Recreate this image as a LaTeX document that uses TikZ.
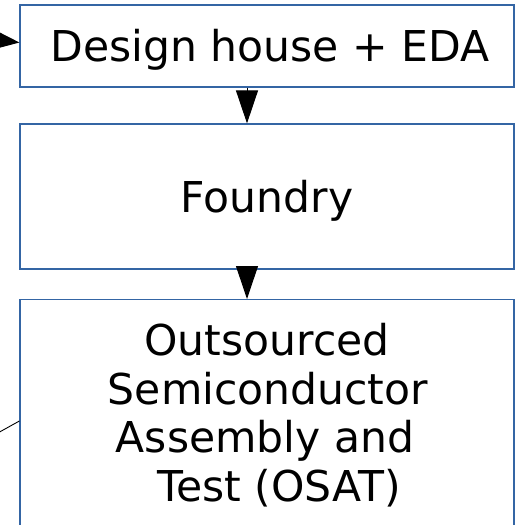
\documentclass[tikz,border=0pt]{standalone}
\usepackage{fontspec}
\setmainfont{DejaVu Sans}
\usetikzlibrary{arrows.meta,calc}
\definecolor{boxblue}{HTML}{3465A4}
\begin{document}
\begin{tikzpicture}[x=1pt,y=-1pt,
  box/.style={draw=boxblue, line width=1.2pt, minimum width=494pt, inner sep=0pt,
    text height=31pt, text depth=0pt, font=\fontsize{42.5}{48.7}\selectfont},
  txt/.style={inner sep=0pt, anchor=base, font=\fontsize{42.5}{48.7}\selectfont},
  arr/.style={draw=black, line width=1pt, -{Triangle[length=33pt,width=22pt]}},
  arrh/.style={draw=black, line width=1pt, -{Triangle[length=33pt,width=25pt]}},
  conn/.style={draw=black, line width=0.9pt}]
\useasboundingbox (0,0) rectangle (515,525);
\clip (0,0) rectangle (515,525);
\node[box, minimum height=82pt] (d) at (267,46) {\hspace*{6pt}Design house + EDA};
\node[box, minimum height=145pt] (f) at (267,196.5) {Foundry};
\node[box, minimum height=228pt, anchor=north] (o) at (267,299) {};
\node[txt] (o1) at (267,355) {Outsourced};
\node[txt] (o2) at (268,404) {Semiconductor};
\node[txt] (o3) at (265,452) {Assembly and};
\node[txt] (o4) at (279,501) {Test (OSAT)};
\coordinate (ax) at (247,0);
\draw[arr] (d.south -| ax) -- (f.north -| ax);
\draw[arr] (f.south -| ax) -- (o.north -| ax);
\coordinate (in) at (-60,34);
\draw[arrh] (in) -- ($(d.west)+(0,-3.5)$);
\coordinate (oy) at (0,421);
\coordinate (out) at (-40,454);
\draw[conn] (o.west |- oy) -- (out);
\end{tikzpicture}
\end{document}
